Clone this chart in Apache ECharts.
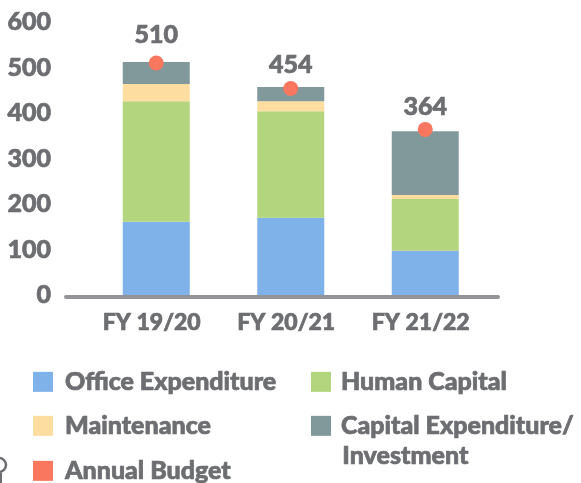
<!DOCTYPE html>
<html><head><meta charset="utf-8">
<style>html,body{margin:0;padding:0;background:#fff}#c{width:581px;height:483px}</style>
<script src="https://cdn.jsdelivr.net/npm/echarts@6/dist/echarts.min.js"></script>
</head><body><div id="c"></div>
<script>
const categories = ['FY 19/20','FY 20/21','FY 21/22'];
const officeExpenditure = [161,170,97];
const humanCapital = [265,234,114];
const maintenance = [38,22,9];
const capitalExpenditure = [48,31,140];
const annualBudget = [510,454,364];
const yTicks = [0,100,200,300,400,500,600];
const labelGaps = [8,3,2];
const FONT = 'Lato', GREY = '#6d6e71';
const names = ['Office Expenditure','Human Capital','Maintenance','Capital Expenditure/','Annual Budget'];
const colors = ['#7fb2e8','#b2d57d','#fedea0','#82999b','#f5755d'];
const txt = {fontFamily:FONT,fontWeight:900,color:GREY,textBorderColor:GREY,textBorderWidth:0.7};
function bar(i,d){return {name:names[i],type:'bar',stack:'t',data:d,barWidth:67,itemStyle:{color:colors[i]},xAxisIndex:0,yAxisIndex:0};}
function leg(name,left,top,gap){return {data:[name],left,top,itemWidth:20,itemHeight:20,itemGap:0,padding:0,selectedMode:false,icon:'rect',
  textStyle:{...txt,fontSize:25,padding:[0,0,6,gap]}};}
const chart = echarts.init(document.getElementById('c'),null,{renderer:'canvas'});
chart.setOption({
  animation:false,
  grid:[{left:89,width:403.5,top:22,height:273},{left:66,width:432,top:22,height:275}],
  xAxis:[
    {type:'category',gridIndex:0,data:categories,axisLine:{show:false},axisTick:{show:false},
     axisLabel:{...txt,fontSize:23,margin:16,padding:[0,9,0,0]}},
    {type:'category',gridIndex:1,data:categories,axisLine:{lineStyle:{color:'#929497',width:4}},axisTick:{show:false},axisLabel:{show:false}}
  ],
  yAxis:[
    {type:'value',gridIndex:0,min:0,max:600,interval:100,axisLine:{show:false},axisTick:{show:false},splitLine:{show:false},
     axisLabel:{...txt,fontSize:25,margin:38,align:'right',formatter:v=>yTicks.includes(v)?String(v):''}},
    {type:'value',gridIndex:1,show:false}
  ],
  legend:[leg(names[0],33,369,7),leg(names[1],311,369,5),leg(names[2],33,413,7),leg(names[3],311,413,5),leg(names[4],33,458,7)],
  graphic:[
    {type:'text',left:342,top:443,style:{text:'Investment',fontFamily:FONT,fontWeight:900,fontSize:25,fill:GREY,stroke:GREY,lineWidth:0.7}},
    {type:'circle',shape:{cx:-1,cy:465,r:7},style:{fill:'none',stroke:'#6d6e71',lineWidth:2.5}},
    {type:'line',shape:{x1:1,y1:473,x2:1,y2:483},style:{stroke:'#6d6e71',lineWidth:2}}
  ],
  series:[
    bar(0,officeExpenditure),bar(1,humanCapital),bar(2,maintenance),bar(3,capitalExpenditure),
    {name:names[4],type:'scatter',data:annualBudget.map((v,i)=>({value:v,label:{distance:labelGaps[i]}})),symbolSize:15,itemStyle:{color:'#f9775f',opacity:1},z:5,xAxisIndex:0,yAxisIndex:0,
     label:{show:true,position:'top',...txt,fontSize:25}}
  ]
});
</script></body></html>
